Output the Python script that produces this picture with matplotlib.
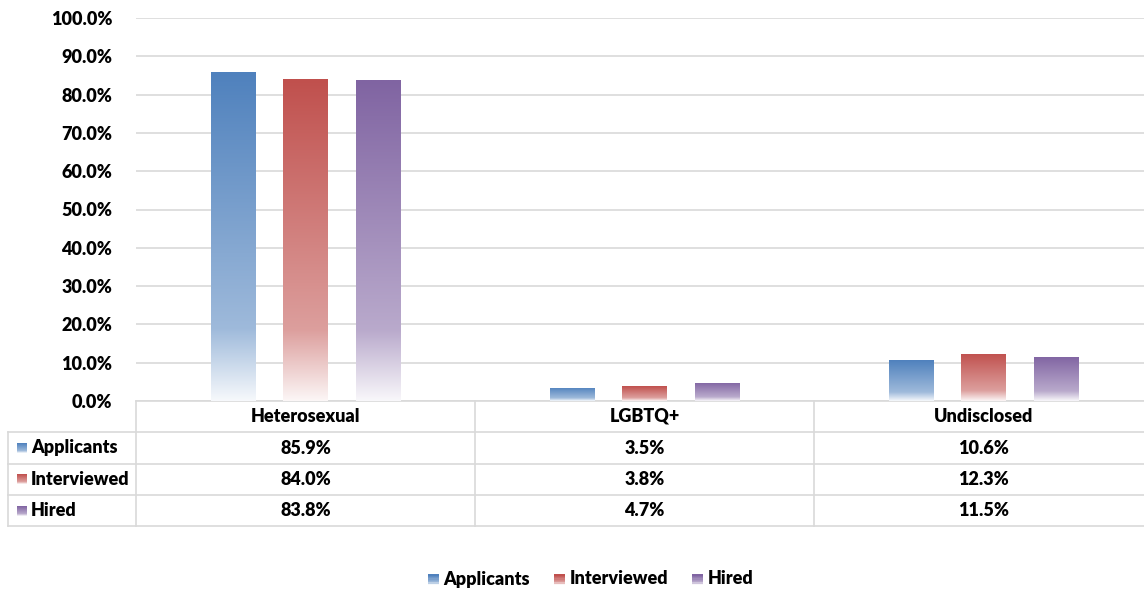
import numpy as np
import matplotlib
matplotlib.use("Agg")
import matplotlib.pyplot as plt
from matplotlib.colors import to_rgb
from matplotlib.patches import Rectangle
from matplotlib.legend_handler import HandlerBase

plt.rcParams['font.family'] = ['Lato', 'DejaVu Sans']

# data
categories = ['Heterosexual', 'LGBTQ+', 'Undisclosed']
series = ['Applicants', 'Interviewed', 'Hired']
applicants = [85.9, 3.5, 10.6]
interviewed = [84.0, 3.8, 12.3]
hired = [83.8, 4.7, 11.5]
values = [applicants, interviewed, hired]
colors = ['#4F81BD', '#C0504D', '#8064A2']
yticks = [0, 10, 20, 30, 40, 50, 60, 70, 80, 90, 100]
grid_col = '#D9D9D9'
FS = 13
FW = 'heavy'


def gradient(base, n=256):
    # bottom (row 0) light -> top base colour, excel-like
    b = np.array(to_rgb(base))
    w = np.ones(3)
    t = np.linspace(0, 1, n)  # 0 bottom, 1 top
    stops_t = [0.0, 0.22, 1.0]
    stops_mix = [0.95, 0.45, 0.0]  # fraction of white
    mix = np.interp(t, stops_t, stops_mix)
    img = b[None, :] * (1 - mix[:, None]) + w[None, :] * mix[:, None]
    return img[:, None, :]


class GradHandler(HandlerBase):
    def create_artists(self, legend, orig, xd, yd, width, height, fontsize, trans):
        s = height * 0.85
        x0 = xd + width - s
        y0 = yd + (height - s) / 2 - 1
        arts = []
        img = gradient(orig.get_facecolor(), 8)
        for k in range(8):
            r = Rectangle((x0, y0 + k * s / 8), s, s / 8 + 0.1,
                          facecolor=img[k, 0], edgecolor='none', transform=trans)
            arts.append(r)
        return arts


fig = plt.figure(figsize=(11.44, 5.92), dpi=100)
W, H = 1144, 592
col_px = 339
ax = fig.add_axes([136 / W, (H - 401) / H, 3 * col_px / W, (401 - 18) / H])

x = np.arange(len(categories))
offsets = [-0.215, 0, 0.215]
bw = 0.13
for vals, off, c in zip(values, offsets, colors):
    bars = ax.bar(x + off, vals, width=bw, facecolor='none', edgecolor='none', zorder=3)
    for b in bars:
        bx, by = b.get_x(), b.get_y()
        im = ax.imshow(gradient(c), extent=[bx, bx + b.get_width(), by, by + b.get_height()],
                       origin='lower', aspect='auto', zorder=3, interpolation='bilinear')
        im.set_clip_path(b)

ax.set_xlim(-0.5, len(categories) - 0.5)
ax.set_ylim(0, 100)
ax.set_yticks(yticks)
ax.set_yticklabels([f'{v:.1f}%' for v in yticks], fontsize=FS, fontweight=FW)
ax.tick_params(axis='y', length=0, pad=17)
ax.set_xticks([])
ax.grid(axis='y', color=grid_col, linewidth=1.2, zorder=0)
ax.set_axisbelow(True)
for s in ax.spines.values():
    s.set_visible(False)

# data table below the axes
ax_h = 401 - 18
row_px = [401, 432, 464, 495, 526]
row_y = [-(p - 401) / ax_h for p in row_px]
tr = ax.get_xaxis_transform()
px_per_unit = col_px
left = -0.5 - (136 - 8) / px_per_unit
right = len(categories) - 0.5
lkw = dict(color=grid_col, linewidth=1.2, transform=tr, clip_on=False)
# horizontal lines
ax.plot([-0.5, right], [row_y[0], row_y[0]], **lkw)
for yy in row_y[1:]:
    ax.plot([left, right], [yy, yy], **lkw)
# vertical lines
ax.plot([left, left], [row_y[1], row_y[-1]], **lkw)
for xv in [-0.5, 0.5, 1.5, 2.5]:
    ax.plot([xv, xv], [row_y[0], row_y[-1]], **lkw)

for i, cat in enumerate(categories):
    ax.text(i, (row_y[0] + row_y[1]) / 2, cat, transform=tr, ha='center', va='center',
            fontsize=FS, fontweight=FW)
for r, (name, vals, c) in enumerate(zip(series, values, colors)):
    yc = (row_y[r + 1] + row_y[r + 2]) / 2
    for i, v in enumerate(vals):
        ax.text(i, yc, f'{v:.1f}%', transform=tr, ha='center', va='center',
                fontsize=FS, fontweight=FW)
    sx0 = left + 9 / px_per_unit
    sw = 10 / px_per_unit
    sh = 10 / ax_h
    im = ax.imshow(gradient(c, 32), extent=[sx0, sx0 + sw, yc - sh / 2, yc + sh / 2],
                   origin='lower', aspect='auto', transform=tr, clip_on=False, zorder=4)
    ax.text(left + 23 / px_per_unit, yc, name, transform=tr, ha='left', va='center',
            fontsize=FS, fontweight=FW)

ax.set_xlim(-0.5, len(categories) - 0.5)
ax.set_ylim(0, 100)

handles = [Rectangle((0, 0), 1, 1, facecolor=c) for c in colors]
fig.legend(handles, series, loc='center', bbox_to_anchor=(0.515, (H - 579) / H),
           ncol=3, frameon=False, prop=dict(size=FS, weight=FW),
           handler_map={Rectangle: GradHandler()}, handlelength=0.75,
           handletextpad=0.25, columnspacing=1.2)

fig.savefig('out.png', dpi=100)
